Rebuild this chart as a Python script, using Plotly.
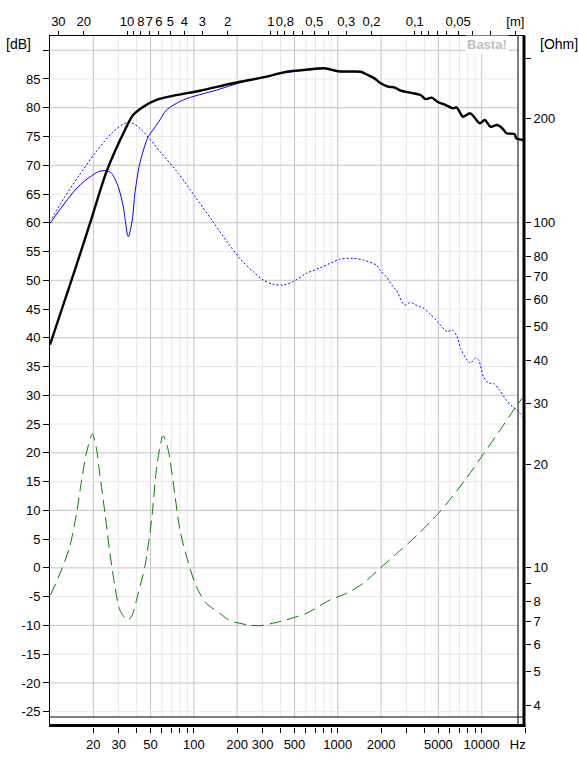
import plotly.graph_objects as go

# ---------------- data ----------------
# Total SPL (black, thick) [Hz], [dB]
f_total = [10, 14.9, 19.3, 24.7, 33.1, 37.7, 44, 55, 71, 110, 187, 320, 441, 600, 808,
           1000, 1200, 1445, 1610, 1800, 1990, 2230, 2470, 2740, 3190, 3760, 4080, 4490,
           4920, 5590, 6340, 6680, 7230, 7420, 8350, 9690, 10500, 11500, 12800, 13900,
           14900, 16900, 17400, 18300, 19500]
spl_total = [38.8, 51.8, 60.5, 68.9, 76.1, 78.7, 80.1, 81.35, 82.05, 82.96, 84.25, 85.4,
             86.27, 86.6, 86.86, 86.35, 86.3, 86.25, 85.7, 85.1, 84.25, 83.66, 83.55,
             82.96, 82.62, 82.22, 81.5, 81.75, 81.05, 80.48, 79.9, 80.08, 78.74, 78.44,
             79.03, 77.3, 77.87, 76.7, 77.0, 76.43, 75.56, 75.43, 74.69, 74.51, 74.39]

# Driver SPL (blue, thin solid)
f_driver = [10, 15.7, 21.7, 24.7, 26.8, 29.8, 32.3, 35, 37.3, 38.9, 42.1, 48.1, 52, 58,
            64.6, 84.3, 144, 245, 440, 600, 808, 1000, 1200, 1445, 1610, 1800, 1990, 2230,
            2470, 2740, 3190, 3760, 4080, 4490, 4920, 5590, 6340, 6680, 7230, 7420, 8350,
            9690, 10500, 11500, 12800, 13900, 14900, 16900, 17400, 18300, 19500]
spl_driver = [59.9, 66.27, 68.88, 69.05, 68.6, 66.27, 62.8, 57.58, 60.48, 65.12, 70.34,
              74.96, 76.13, 77.87, 79.61, 81.35, 83.08, 84.82, 86.09, 86.5, 86.8, 86.3,
              86.25, 86.2, 85.6, 85.0, 84.2, 83.6, 83.5, 82.9, 82.55, 82.15, 81.45, 81.7,
              81.0, 80.4, 79.85, 80.0, 78.7, 78.4, 78.95, 77.25, 77.8, 76.65, 76.95, 76.4,
              75.5, 75.4, 74.65, 74.45, 74.35]

# Second SPL curve (blue, dotted)
f_dotted = [10.3, 12.7, 15.7, 20.5, 26.8, 33.1, 36.9, 43.3, 59.6, 77.8, 102, 133, 173,
            212, 258, 303, 355, 417, 489, 606, 790, 1030, 1280, 1500, 1850, 1960, 2170,
            2420, 2550, 2910, 3150, 3240, 3700, 3800, 4330, 4810, 4940, 5770, 6240, 6760,
            7130, 7910, 8340, 9020, 9510, 10300, 11200, 12100, 13300, 14800, 16400,
            17700, 19200]
spl_dotted = [60.78, 64.54, 68.0, 72.08, 75.56, 77.3, 77.4, 76.13, 72.08, 68.6, 64.54,
              60.48, 56.43, 53.6, 51.5, 50.05, 49.3, 49.18, 49.76, 51.2, 52.37, 53.65,
              53.82, 53.53, 52.66, 51.79, 50.63, 48.89, 48.31, 45.7, 46.1, 46.1, 45.41,
              45.41, 44.26, 43.1, 42.8, 41.06, 41.36, 40.19, 38.18, 36.14, 35.57, 36.44,
              36.14, 33.24, 32.09, 32.09, 30.93, 29.19, 28.02, 27.45, 26.29]

# Impedance (green, dashed) [Hz], [Ohm]
f_imp = [10.1, 12, 13.7, 15.3, 16.6, 17.9, 19.7, 20.9, 22.3, 24.1, 26.1, 28.3, 30.6,
         34.4, 36.8, 41, 45.6, 50.8, 55.6, 61.1, 66.3, 71.9, 80, 89, 104, 122, 151, 178,
         209, 245, 287, 303, 395, 606, 880, 1150, 1500, 1960, 2560, 3600, 5000, 5960,
         7910, 10300, 13800, 16100, 19100]
imp = [8.35, 9.86, 11.52, 14.39, 17.97, 21.48, 24.43, 22.45, 18.38, 14.39, 11.02, 8.82,
       7.55, 7.06, 7.22, 8.44, 10.08, 13.77, 20.09, 24.11, 21.96, 17.59, 12.88, 10.78,
       8.82, 7.90, 7.39, 7.03, 6.91, 6.82, 6.80, 6.82, 6.99, 7.39, 8.07, 8.44, 9.02, 9.97,
       11.0, 12.5, 14.4, 15.7, 18.3, 21.4, 25.5, 28.1, 31.0]

# Axis ticks
hz_ticks = [20, 30, 40, 50, 60, 70, 80, 90, 100, 200, 300, 400, 500, 600, 700, 800, 900,
            1000, 2000, 3000, 4000, 5000, 6000, 7000, 8000, 9000, 10000, 20000]
hz_labels = {20: "20", 30: "30", 50: "50", 100: "100", 200: "200", 300: "300",
             500: "500", 1000: "1000", 2000: "2000", 5000: "5000", 10000: "10000",
             20000: "Hz\u00a0\u00a0\u00a0\u00a0"}
m_ticks = [30, 20, 10, 9, 8, 7, 6, 5, 4, 3, 2, 1, 0.9, 0.8, 0.7, 0.6, 0.5, 0.4, 0.3, 0.2,
           0.1, 0.09, 0.08, 0.07, 0.06, 0.05, 0.04, 0.03, 0.02]
m_labels = {30: "30", 20: "20", 10: "10", 8: "8", 7: "7", 6: "6", 5: "5", 4: "4", 3: "3",
            2: "2", 1: "1", 0.8: "0,8", 0.5: "0,5", 0.3: "0,3", 0.2: "0,2", 0.1: "0,1",
            0.05: "0,05", 0.02: "[m]"}
db_ticks = list(range(-25, 95, 5))
ohm_ticks = [4, 5, 6, 7, 8, 9, 10, 20, 30, 40, 50, 60, 70, 80, 90, 100, 200, 300]
ohm_unlabeled = [9, 90, 300]
SOUND_SPEED = 343.0

# ---------------- styling helpers ----------------
FONT = "Liberation Sans, Arial, sans-serif"
DB_RANGE = [-27.66, 92.47]
OHM_RANGE = [1 + DB_RANGE[0] / 60.0, 1 + DB_RANGE[1] / 60.0]
X_RANGE = [1.0, 4.30103]

PLOT_L, PLOT_R, PLOT_T, PLOT_B = 50, 525, 36, 727
W, H = 578, 770


def px_x(px):
    return (px - PLOT_L) / (PLOT_R - PLOT_L)


def px_y(py):
    return (PLOT_B - py) / (PLOT_B - PLOT_T)


fig = go.Figure()

fig.add_trace(go.Scatter(x=f_imp, y=imp, mode="lines", yaxis="y2",
                         line=dict(color="#008000", width=1, dash="12px,6px",
                                   shape="spline", smoothing=0.8),
                         hoverinfo="skip", showlegend=False))
fig.add_trace(go.Scatter(x=f_dotted, y=spl_dotted, mode="lines",
                         line=dict(color="#0000ff", width=1, dash="2px,2px",
                                   shape="spline", smoothing=0.8),
                         hoverinfo="skip", showlegend=False))
fig.add_trace(go.Scatter(x=f_driver, y=spl_driver, mode="lines",
                         line=dict(color="#0000ff", width=1, shape="spline", smoothing=0.8),
                         hoverinfo="skip", showlegend=False))
fig.add_trace(go.Scatter(x=f_total, y=spl_total, mode="lines",
                         line=dict(color="#000000", width=2.4, shape="spline", smoothing=0.8),
                         hoverinfo="skip", showlegend=False))
# invisible trace to activate top axis
fig.add_trace(go.Scatter(x=[100], y=[0], xaxis="x2", mode="markers",
                         marker=dict(opacity=0), hoverinfo="skip", showlegend=False))

shapes = []
grid_bottom = px_y(717)
grid_right = px_x(518)
dark_x = [20, 50, 100, 200, 500, 1000, 2000, 5000, 10000]
for v in hz_ticks[:-1]:
    col = "#c4c4c4" if v in dark_x else "#e8e8e8"
    shapes.append(dict(type="line", xref="x", yref="paper", x0=v, x1=v, y0=grid_bottom,
                       y1=1, line=dict(color=col, width=1), layer="below"))
for v in db_ticks:
    col = "#c4c4c4" if v % 10 == 0 else "#e8e8e8"
    shapes.append(dict(type="line", xref="paper", yref="y", x0=0, x1=grid_right, y0=v,
                       y1=v, line=dict(color=col, width=1), layer="below"))
# frame lines
shapes.append(dict(type="line", xref="paper", yref="paper", x0=px_x(518), x1=px_x(518),
                   y0=0, y1=1, line=dict(color="black", width=1)))
shapes.append(dict(type="line", xref="paper", yref="paper", x0=px_x(524), x1=px_x(524),
                   y0=0, y1=1, line=dict(color="black", width=3)))
shapes.append(dict(type="line", xref="paper", yref="paper", x0=0, x1=px_x(525),
                   y0=px_y(717), y1=px_y(717), line=dict(color="black", width=1)))
shapes.append(dict(type="line", xref="paper", yref="paper", x0=0, x1=px_x(525.5),
                   y0=px_y(725.5), y1=px_y(725.5), line=dict(color="black", width=3)))

annotations = [
    dict(text="[dB]", xref="paper", yref="paper", x=px_x(4), y=px_y(44), xanchor="left",
         yanchor="middle", showarrow=False, font=dict(family=FONT, size=14, color="black")),
    dict(text="[Ohm]", xref="paper", yref="paper", x=px_x(538), y=px_y(44), xanchor="left",
         yanchor="middle", showarrow=False, font=dict(family=FONT, size=14, color="black")),
    dict(text="<b>Basta!</b>", xref="paper", yref="paper", x=px_x(509), y=px_y(45),
         xanchor="right", yanchor="middle", showarrow=False, bgcolor="white",
         font=dict(family=FONT, size=13, color="#c0c0c0")),
]

tick_font = dict(family=FONT, size=13, color="black")

fig.update_layout(
    width=W, height=H,
    margin=dict(l=PLOT_L, r=W - PLOT_R, t=PLOT_T, b=H - PLOT_B, pad=0, autoexpand=False),
    paper_bgcolor="white", plot_bgcolor="white",
    showlegend=False,
    shapes=shapes, annotations=annotations,
    xaxis=dict(type="log", range=X_RANGE, tickmode="array", tickvals=hz_ticks,
               ticktext=[hz_labels.get(v, "") for v in hz_ticks], ticks="outside",
               ticklen=5, tickcolor="black", tickwidth=1, showgrid=False,
               zeroline=False, showline=False, tickfont=tick_font, tickangle=0,
               automargin=False),
    xaxis2=dict(type="log", range=X_RANGE, overlaying="x", side="top", anchor="y",
                tickmode="array", tickvals=[SOUND_SPEED / m for m in m_ticks],
                ticktext=[m_labels.get(m, "") for m in m_ticks], ticks="outside",
                ticklen=4, tickcolor="black", showgrid=False, zeroline=False,
                showline=True, linecolor="black", linewidth=1, tickfont=tick_font,
                tickangle=0, automargin=False),
    yaxis=dict(range=DB_RANGE, tickmode="array", tickvals=db_ticks,
               ticktext=[("" if v == 90 else str(v)) for v in db_ticks], ticks="outside",
               ticklen=6, tickcolor="black", showgrid=False, zeroline=False,
               showline=True, linecolor="black", linewidth=1, tickfont=tick_font,
               automargin=False),
    yaxis2=dict(type="log", range=OHM_RANGE, overlaying="y", side="right", anchor="free",
                position=1.0, tickmode="array", tickvals=ohm_ticks,
                ticktext=[("" if v in ohm_unlabeled else str(v)) for v in ohm_ticks],
                ticks="outside", ticklen=5, tickcolor="black", showgrid=False,
                zeroline=False, showline=False, tickfont=tick_font, automargin=False),
)

# remove the browser's default 8px page margin so the figure sits at the window origin
fig.write_html("out.html", config={"displayModeBar": False},
               post_script="document.body.style.margin='0';")
